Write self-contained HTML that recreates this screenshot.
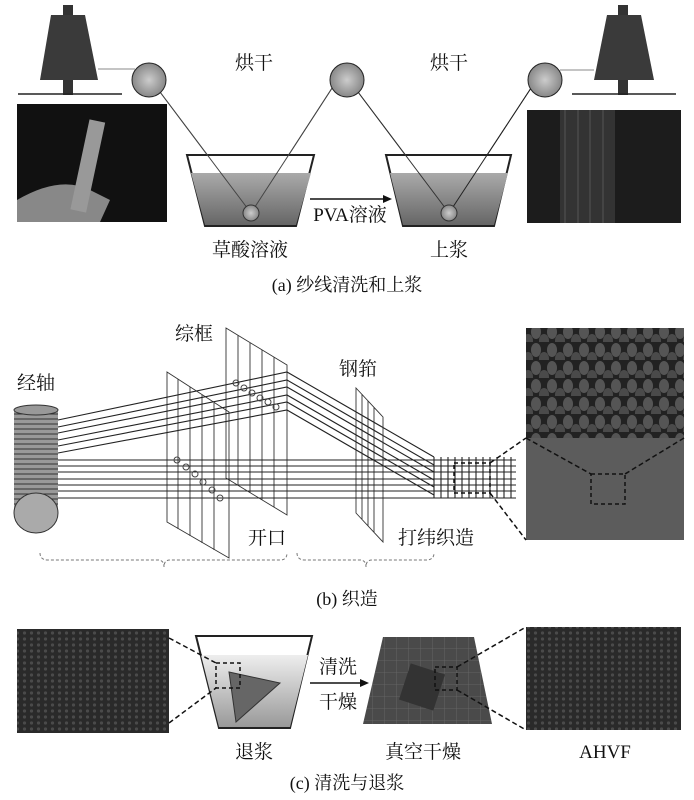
<!DOCTYPE html>
<html><head><meta charset="utf-8"><style>
html,body{margin:0;padding:0;background:#fff;}
svg{display:block;}
text{font-family:"Liberation Serif","Noto Serif CJK SC",serif;fill:#111;}
</style></head><body>
<svg width="694" height="800" viewBox="0 0 694 800" xmlns="http://www.w3.org/2000/svg">
<defs>
<linearGradient id="liq" x1="0" y1="0" x2="0" y2="1"><stop offset="0" stop-color="#aaa"/><stop offset="1" stop-color="#666"/></linearGradient>
<linearGradient id="liq2" x1="0" y1="0" x2="0" y2="1"><stop offset="0" stop-color="#eee"/><stop offset="1" stop-color="#999"/></linearGradient>
<radialGradient id="ball"><stop offset="0" stop-color="#ccc"/><stop offset="1" stop-color="#888"/></radialGradient>
<pattern id="dots" width="7" height="6" patternUnits="userSpaceOnUse"><rect width="7" height="6" fill="#2a2a2a"/><circle cx="3.5" cy="3" r="1.6" fill="#4a4a4a"/></pattern>
<pattern id="weave" width="16" height="18" patternUnits="userSpaceOnUse"><rect width="16" height="18" fill="#222"/><ellipse cx="8" cy="8" rx="5" ry="7" fill="#555"/><ellipse cx="0" cy="17" rx="5" ry="7" fill="#4a4a4a"/><ellipse cx="16" cy="17" rx="5" ry="7" fill="#4a4a4a"/></pattern>
<pattern id="grid" width="12" height="12" patternUnits="userSpaceOnUse"><rect width="12" height="12" fill="#4a4a4a"/><path d="M0 0H12M0 0V12" stroke="#6a6a6a" stroke-width="0.8"/></pattern>
</defs>

<!-- (a) -->
<g>
<!-- left spool -->
<rect x="63" y="5" width="10" height="90" fill="#333"/>
<polygon points="51,15 85,15 98,80 40,80" fill="#3a3a3a"/>
<line x1="18" y1="94" x2="122" y2="94" stroke="#222" stroke-width="1.5"/>
<line x1="98" y1="69" x2="135" y2="69" stroke="#888"/>
<!-- right spool -->
<rect x="618" y="5" width="10" height="90" fill="#333"/>
<polygon points="607,15 641,15 654,80 594,80" fill="#3a3a3a"/>
<line x1="572" y1="94" x2="676" y2="94" stroke="#222" stroke-width="1.5"/>
<line x1="560" y1="70" x2="594" y2="70" stroke="#888"/>
<!-- threads -->
<polyline points="160,92 251,213 336,82" fill="none" stroke="#555"/>
<polyline points="358,92 449,213 535,82" fill="none" stroke="#333"/>
<!-- baths -->
<polygon points="187,155 314,155 296,226 205,226" fill="#fff" stroke="#222" stroke-width="2"/>
<polygon points="191,173 311,173 296,225 205,225" fill="url(#liq)"/>
<polygon points="386,155 511,155 494,226 403,226" fill="#fff" stroke="#222" stroke-width="2"/>
<polygon points="390,173 508,173 494,225 403,225" fill="url(#liq)"/>
<line x1="160" y1="92" x2="251" y2="213" stroke="#444"/>
<line x1="251" y1="213" x2="336" y2="82" stroke="#444"/>
<line x1="358" y1="92" x2="449" y2="213" stroke="#333"/>
<line x1="449" y1="213" x2="535" y2="82" stroke="#222"/>
<circle cx="251" cy="213" r="8" fill="url(#ball)" stroke="#333"/>
<circle cx="449" cy="213" r="8" fill="url(#ball)" stroke="#333"/>
<circle cx="149" cy="80" r="17" fill="url(#ball)" stroke="#222"/>
<circle cx="347" cy="80" r="17" fill="url(#ball)" stroke="#222"/>
<circle cx="545" cy="80" r="17" fill="url(#ball)" stroke="#222"/>
<!-- photos -->
<rect x="17" y="104" width="150" height="118" fill="#111"/>
<path d="M17 200 Q60 175 90 190 L110 200 L100 222 L17 222Z" fill="#888"/>
<rect x="80" y="120" width="16" height="92" fill="#999" transform="rotate(12 88 165)"/>
<rect x="527" y="110" width="154" height="113" fill="#1c1c1c"/>
<rect x="560" y="110" width="55" height="113" fill="#333"/>
<path d="M565 110V223M578 110V223M590 110V223M603 110V223" stroke="#555"/>
<!-- arrow -->
<line x1="310" y1="199" x2="385" y2="199" stroke="#111" stroke-width="1.5"/>
<polygon points="392,199 383,195 383,203" fill="#111"/>
<text x="350" y="221" font-size="19" text-anchor="middle">PVA溶液</text>
<text x="254" y="69" font-size="19" text-anchor="middle">烘干</text>
<text x="449" y="69" font-size="19" text-anchor="middle">烘干</text>
<text x="250" y="256" font-size="19" text-anchor="middle">草酸溶液</text>
<text x="449" y="256" font-size="19" text-anchor="middle">上浆</text>
<text x="347" y="291" font-size="18" text-anchor="middle">(a) 纱线清洗和上浆</text>
</g>

<!-- (b) -->
<g>
<text x="36" y="389" font-size="19" text-anchor="middle">经轴</text>
<text x="194" y="340" font-size="19" text-anchor="middle">综框</text>
<text x="358" y="375" font-size="19" text-anchor="middle">钢筘</text>
<text x="267" y="544" font-size="19" text-anchor="middle">开口</text>
<text x="436" y="544" font-size="19" text-anchor="middle">打纬织造</text>
<!-- beam -->
<rect x="14" y="410" width="44" height="103" fill="#999"/>
<g stroke="#333" fill="none">
<path d="M14 414h44M14 419h44M14 424h44M14 429h44M14 434h44M14 439h44M14 444h44M14 449h44M14 454h44M14 459h44M14 464h44M14 469h44M14 474h44M14 479h44M14 484h44M14 489h44M14 494h44M14 499h44M14 504h44"/>
</g>
<ellipse cx="36" cy="410" rx="22" ry="5" fill="#999" stroke="#333"/>
<ellipse cx="36" cy="513" rx="22" ry="20" fill="#aaa" stroke="#333"/>
<!-- frames -->
<g stroke="#333" fill="none" stroke-width="0.9">
<polygon points="167,372 229,412 229,558 167,522"/>
<path d="M178,379V529M190,387V536M202,395V543M214,403V550"/>
<polygon points="226,328 287,365 287,515 226,478"/>
<path d="M238,335V485M250,343V493M262,350V500M274,357V507"/>
<polygon points="356,388 383,417 383,542 356,513"/>
<path d="M362,394V519M368,401V526M374,407V532"/>
</g>
<!-- threads -->
<g stroke="#222" stroke-width="1.1" fill="none">
<polyline points="58,420 287,372 434,457"/>
<polyline points="58,427 287,380 434,465"/>
<polyline points="58,433 287,387 434,472"/>
<polyline points="58,440 287,395 434,480"/>
<polyline points="58,446 287,402 434,487"/>
<polyline points="58,453 287,410 434,495"/>
<path d="M58,460H516M58,466H516M58,472H516M58,479H516M58,485H516M58,491H516M58,498H516"/>
<path d="M434,457V498M441,457V498M448,457V498M455,457V498M462,457V498M469,457V498M476,457V498M483,457V498M490,457V498M497,457V498M504,457V498M511,457V498"/>
</g>
<g fill="none" stroke="#444">
<circle cx="236" cy="383" r="3"/><circle cx="244" cy="388" r="3"/><circle cx="252" cy="393" r="3"/><circle cx="260" cy="398" r="3"/><circle cx="268" cy="402" r="3"/><circle cx="276" cy="407" r="3"/>
<circle cx="177" cy="460" r="3"/><circle cx="186" cy="467" r="3"/><circle cx="195" cy="474" r="3"/><circle cx="203" cy="482" r="3"/><circle cx="212" cy="490" r="3"/><circle cx="220" cy="498" r="3"/>
</g>
<rect x="454" y="463" width="36" height="30" fill="none" stroke="#111" stroke-width="1.5" stroke-dasharray="4,3"/>
<!-- photo -->
<rect x="526" y="328" width="158" height="212" fill="#5c5c5c"/>
<rect x="526" y="328" width="158" height="110" fill="url(#weave)"/>
<rect x="591" y="474" width="34" height="30" fill="none" stroke="#111" stroke-width="1.5" stroke-dasharray="4,3"/>
<g stroke="#111" stroke-width="1.5" stroke-dasharray="5,3">
<line x1="490" y1="463" x2="526" y2="438"/><line x1="490" y1="493" x2="526" y2="540"/>
<line x1="526" y1="438" x2="591" y2="474"/><line x1="684" y1="438" x2="625" y2="474"/>
</g>
<!-- braces -->
<g stroke="#777" fill="none" stroke-dasharray="3,2">
<path d="M40,553 Q40,560 48,560 H158 Q164,560 164,567 Q164,560 170,560 H280 Q287,560 287,553"/>
<path d="M297,553 Q297,560 305,560 H360 Q366,560 366,567 Q366,560 372,560 H426 Q434,560 434,553"/>
</g>
<text x="347" y="605" font-size="18" text-anchor="middle">(b) 织造</text>
</g>

<!-- (c) -->
<g>
<rect x="17" y="629" width="152" height="104" fill="url(#dots)"/>
<polygon points="196,636 312,636 290,728 219,728" fill="#fff" stroke="#222" stroke-width="2"/>
<polygon points="201,655 308,655 290,727 219,727" fill="url(#liq2)"/>
<polygon points="229,672 280,683 236,722" fill="#666" stroke="#333"/>
<rect x="216" y="663" width="24" height="25" fill="none" stroke="#111" stroke-width="1.5" stroke-dasharray="4,3"/>
<g stroke="#111" stroke-width="1.5" stroke-dasharray="5,3">
<line x1="169" y1="638" x2="216" y2="663"/><line x1="169" y1="723" x2="216" y2="688"/>
</g>
<line x1="310" y1="683" x2="362" y2="683" stroke="#111" stroke-width="1.5"/>
<polygon points="369,683 360,679 360,687" fill="#111"/>
<text x="338" y="673" font-size="19" text-anchor="middle">清洗</text>
<text x="338" y="708" font-size="19" text-anchor="middle">干燥</text>
<polygon points="383,637 474,637 492,724 363,724" fill="url(#grid)"/>
<rect x="404" y="668" width="36" height="38" fill="#333" transform="rotate(18 422 687)"/>
<rect x="435" y="667" width="22" height="23" fill="none" stroke="#111" stroke-width="1.5" stroke-dasharray="4,3"/>
<rect x="526" y="627" width="155" height="103" fill="url(#dots)"/>
<g stroke="#111" stroke-width="1.5" stroke-dasharray="5,3">
<line x1="457" y1="667" x2="526" y2="627"/><line x1="457" y1="690" x2="526" y2="730"/>
</g>
<text x="254" y="758" font-size="19" text-anchor="middle">退浆</text>
<text x="423" y="758" font-size="19" text-anchor="middle">真空干燥</text>
<text x="605" y="758" font-size="19" text-anchor="middle">AHVF</text>
<text x="347" y="789" font-size="18" text-anchor="middle">(c) 清洗与退浆</text>
</g>
</svg>
</body></html>
